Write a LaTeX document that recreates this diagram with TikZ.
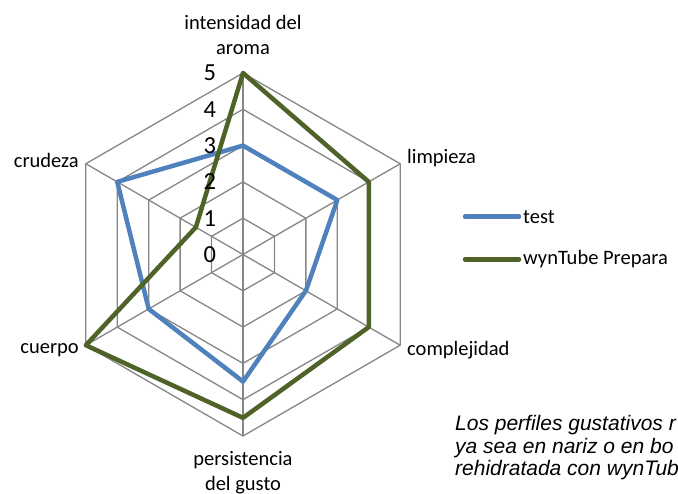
\documentclass[tikz,border=0pt]{standalone}
\usepackage{fontspec}
\setmainfont{Carlito}
\newfontfamily\notefont{Liberation Sans}
\usetikzlibrary{positioning}
\definecolor{testblue}{HTML}{4F81BD}
\definecolor{wyngreen}{HTML}{4F6228}
\definecolor{gridgray}{HTML}{868686}

\begin{document}
\begin{tikzpicture}[x=1pt,y=1pt,grid/.style={draw=gridgray, line width=1.3pt},serie/.style={line width=4.5pt, line join=round, line cap=round},cat/.style={font=\fontsize{20.5}{25}\selectfont, inner sep=0pt, align=center},ticklabel/.style={font=\fontsize{24.5}{24.5}\selectfont, inner sep=0pt, anchor=east}]
  \clip (0,0) rectangle (678,494);
  \begin{scope}[shift={(243,239.5)},x=36.3pt,y=36.3pt]
    % grid
    \foreach \r in {1,...,5}
      \draw[grid] (90:\r) -- (30:\r) -- (-30:\r) -- (-90:\r) -- (-150:\r) -- (150:\r) -- cycle;
    \coordinate (o) at (0,0);
    \foreach \a/\n in {90/aroma,30/limp,-30/compl,-90/pers,-150/cuer,150/crud} {
      \coordinate (\n) at (\a:5);
      \draw[grid] (o) -- (\n);
    }
    % series
    \draw[serie, testblue] (90:3) -- (30:3) -- (-30:2) -- (-90:3.5) -- (-150:3) -- (150:4) -- cycle;
    \draw[serie, wyngreen] (90:5) -- (30:4) -- (-30:4) -- (-90:4.5) -- (-150:5) -- (150:1.5) -- cycle;
    \foreach \v in {0,...,5}
      \node[ticklabel] (t\v) at (-0.74,\v) {\v};
  \end{scope}
  \node[cat] (laroma) at (243,459.5) {intensidad del\\aroma};
  \node[cat, anchor=west] (llimp) at (407,336) {limpieza};
  \node[cat, anchor=west] (lcompl) at (407,144) {complejidad};
  \node[cat] (lpers) at (243,21.5) {persistencia\\del gusto};
  \node[cat, anchor=east] (lcuer) at (79,144) {cuerpo};
  \node[cat, anchor=east] (lcrud) at (79,334) {crudeza};
  % legend
  \coordinate (k1a) at (465,277.3);
  \coordinate (k1b) at (519,277.3);
  \coordinate (k2a) at (465,234.7);
  \coordinate (k2b) at (519,234.7);
  \draw[serie, testblue] (k1a) -- (k1b);
  \draw[serie, wyngreen] (k2a) -- (k2b);
  \node[cat, anchor=west] (ktest) at (523,277.3) {test};
  \node[cat, anchor=west] (kwyn) at (523,234.7) {wynTube Prepara};
  \node[inner sep=0pt, anchor=west, align=left, font=\notefont\itshape\fontsize{21}{22.5}\selectfont] (nota) at (455,46) {Los perfiles gustativos r\\ya sea en nariz o en bo\\rehidratada con wynTub};
\end{tikzpicture}
\end{document}
